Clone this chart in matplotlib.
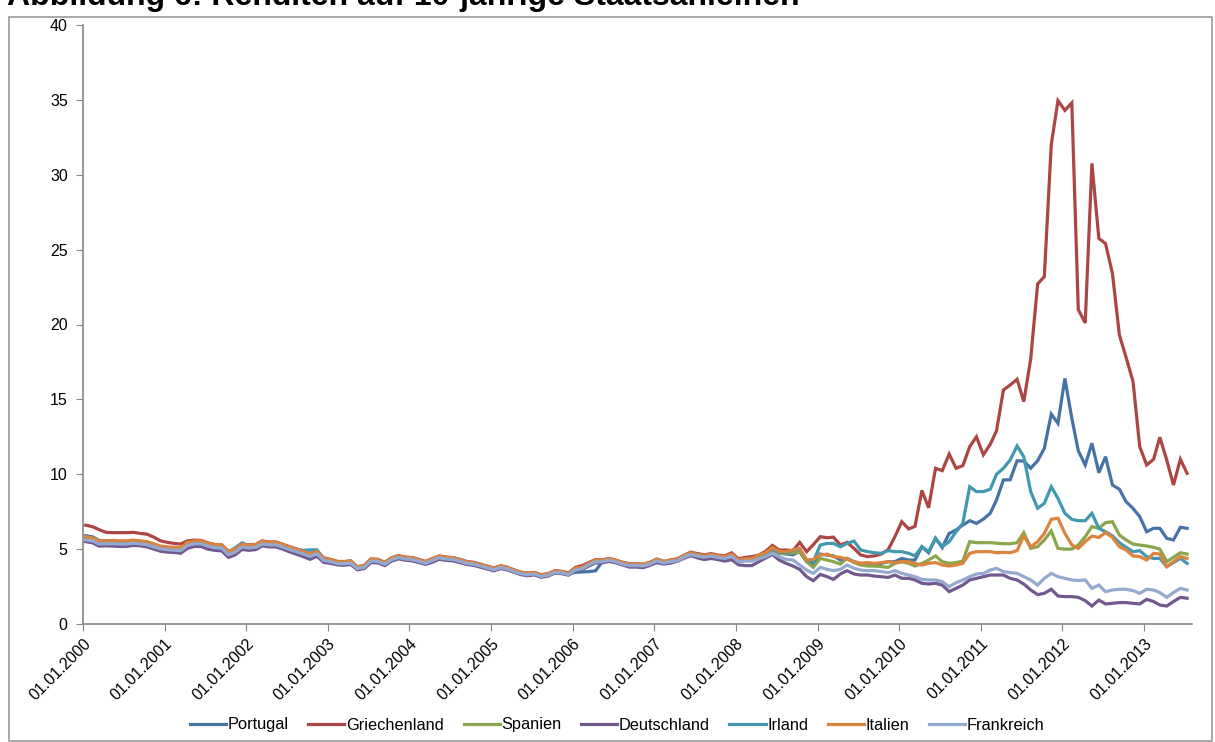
import numpy as np
import pandas as pd
import matplotlib
matplotlib.use("Agg")
import matplotlib.pyplot as plt
import matplotlib.dates as mdates
from matplotlib.patches import Rectangle

plt.rcParams['font.family'] = ['Liberation Sans', 'DejaVu Sans']

# monthly 10y yields, Jan 2000 - Jul 2013
dates = pd.date_range('2000-01-01', periods=163, freq='MS') + pd.Timedelta(days=12)

portugal = [
    5.90, 5.82, 5.58, 5.55, 5.55, 5.52, 5.52, 5.57, 5.52, 5.47, 5.30, 5.15,
    5.08, 5.05, 5.03, 5.40, 5.50, 5.50, 5.35, 5.25, 5.22, 4.76, 4.95, 5.28,
    5.20, 5.25, 5.48, 5.40, 5.42, 5.25, 5.10, 4.95, 4.78, 4.65, 4.80, 4.36,
    4.26, 4.12, 4.10, 4.15, 3.76, 3.86, 4.28, 4.25, 4.06, 4.36, 4.50, 4.41,
    4.38, 4.26, 4.12, 4.30, 4.48, 4.41, 4.38, 4.26, 4.12, 4.06, 3.94, 3.81,
    3.68, 3.83, 3.74, 3.56, 3.41, 3.34, 3.39, 3.23, 3.31, 3.50, 3.46, 3.36,
    3.45, 3.48, 3.50, 3.55, 4.15, 4.30, 4.20, 4.06, 3.96, 3.96, 3.94, 4.06,
    4.28, 4.12, 4.20, 4.28, 4.50, 4.72, 4.60, 4.52, 4.60, 4.50, 4.44, 4.62,
    4.22, 4.30, 4.32, 4.50, 4.62, 4.95, 4.72, 4.68, 4.62, 4.85, 4.16, 4.05,
    4.67, 4.60, 4.55, 4.27, 4.38, 4.16, 4.05, 4.05, 3.94, 4.05, 4.16, 4.16,
    4.38, 4.27, 4.27, 5.16, 4.76, 5.72, 5.10, 6.05, 6.28, 6.60, 6.90, 6.72,
    7.00, 7.40, 8.28, 9.62, 9.63, 10.90, 10.88, 10.40, 10.90, 11.73, 14.02, 13.40,
    16.40, 13.74, 11.57, 10.62, 12.07, 10.10, 11.17, 9.28, 9.00, 8.17, 7.72, 7.17,
    6.16, 6.39, 6.39, 5.72, 5.61, 6.46, 6.39,
]

griechenland = [
    6.60, 6.50, 6.30, 6.12, 6.10, 6.10, 6.10, 6.12, 6.05, 6.00, 5.80, 5.55,
    5.45, 5.38, 5.34, 5.55, 5.60, 5.58, 5.42, 5.30, 5.28, 4.85, 5.02, 5.34,
    5.28, 5.32, 5.55, 5.48, 5.48, 5.32, 5.17, 5.02, 4.86, 4.72, 4.86, 4.42,
    4.32, 4.18, 4.17, 4.22, 3.82, 3.92, 4.34, 4.32, 4.12, 4.42, 4.57, 4.47,
    4.44, 4.32, 4.18, 4.37, 4.55, 4.47, 4.44, 4.32, 4.18, 4.12, 4.00, 3.87,
    3.74, 3.89, 3.80, 3.62, 3.47, 3.40, 3.45, 3.29, 3.37, 3.56, 3.52, 3.40,
    3.78, 3.90, 4.10, 4.30, 4.28, 4.38, 4.27, 4.12, 4.02, 4.02, 4.00, 4.12,
    4.34, 4.18, 4.27, 4.35, 4.58, 4.80, 4.70, 4.62, 4.70, 4.60, 4.55, 4.75,
    4.35, 4.45, 4.50, 4.60, 4.85, 5.25, 4.94, 4.94, 4.90, 5.45, 4.83, 5.30,
    5.83, 5.76, 5.80, 5.28, 5.45, 5.05, 4.61, 4.50, 4.55, 4.67, 4.97, 5.83,
    6.83, 6.35, 6.52, 8.92, 7.76, 10.40, 10.24, 11.35, 10.40, 10.57, 11.84, 12.50,
    11.30, 12.00, 12.90, 15.63, 15.96, 16.34, 14.85, 17.70, 22.70, 23.20, 32.00, 34.95,
    34.30, 34.80, 21.00, 20.10, 30.76, 25.75, 25.40, 23.40, 19.30, 17.80, 16.20, 11.84,
    10.62, 11.00, 12.47, 10.95, 9.28, 11.00, 10.06,
]

spanien = [
    5.78, 5.70, 5.50, 5.50, 5.53, 5.50, 5.50, 5.55, 5.50, 5.45, 5.30, 5.16,
    5.08, 5.05, 5.03, 5.38, 5.48, 5.48, 5.33, 5.23, 5.21, 4.76, 4.93, 5.25,
    5.18, 5.23, 5.45, 5.38, 5.39, 5.23, 5.08, 4.93, 4.77, 4.63, 4.77, 4.34,
    4.24, 4.10, 4.09, 4.14, 3.74, 3.84, 4.26, 4.24, 4.04, 4.34, 4.49, 4.39,
    4.36, 4.24, 4.10, 4.29, 4.47, 4.39, 4.36, 4.24, 4.10, 4.04, 3.92, 3.79,
    3.66, 3.81, 3.72, 3.54, 3.39, 3.32, 3.37, 3.21, 3.29, 3.48, 3.44, 3.33,
    3.66, 3.74, 3.99, 4.21, 4.19, 4.30, 4.19, 4.04, 3.94, 3.94, 3.92, 4.04,
    4.26, 4.10, 4.19, 4.26, 4.49, 4.70, 4.59, 4.52, 4.59, 4.49, 4.43, 4.61,
    4.20, 4.28, 4.30, 4.47, 4.60, 4.95, 4.72, 4.70, 4.75, 4.80, 4.16, 3.78,
    4.38, 4.27, 4.16, 4.00, 4.38, 4.10, 3.94, 3.87, 3.87, 3.83, 3.78, 4.05,
    4.16, 4.05, 3.87, 4.05, 4.27, 4.55, 4.16, 4.05, 4.10, 4.20, 5.50, 5.43,
    5.43, 5.43, 5.40, 5.36, 5.36, 5.43, 6.10, 5.05, 5.16, 5.61, 6.21, 5.05,
    5.00, 5.00, 5.27, 5.83, 6.50, 6.39, 6.77, 6.83, 5.94, 5.61, 5.34, 5.27,
    5.21, 5.12, 5.00, 4.16, 4.45, 4.76, 4.67,
]

deutschland = [
    5.50, 5.42, 5.20, 5.22, 5.20, 5.18, 5.18, 5.25, 5.22, 5.15, 5.00, 4.86,
    4.80, 4.78, 4.72, 5.05, 5.18, 5.18, 5.00, 4.92, 4.88, 4.45, 4.62, 4.98,
    4.92, 4.97, 5.22, 5.15, 5.15, 5.00, 4.82, 4.66, 4.50, 4.32, 4.52, 4.12,
    4.05, 3.95, 3.92, 3.98, 3.62, 3.70, 4.10, 4.08, 3.90, 4.20, 4.35, 4.26,
    4.22, 4.10, 3.98, 4.12, 4.32, 4.25, 4.22, 4.10, 3.98, 3.92, 3.80, 3.68,
    3.55, 3.70, 3.62, 3.45, 3.30, 3.22, 3.28, 3.12, 3.20, 3.40, 3.36, 3.26,
    3.56, 3.64, 3.86, 4.08, 4.08, 4.18, 4.08, 3.94, 3.80, 3.80, 3.76, 3.92,
    4.10, 4.00, 4.06, 4.18, 4.38, 4.56, 4.42, 4.30, 4.38, 4.30, 4.20, 4.30,
    3.95, 3.90, 3.90, 4.16, 4.40, 4.65, 4.27, 4.05, 3.87, 3.65, 3.16, 2.89,
    3.31, 3.16, 2.98, 3.34, 3.56, 3.34, 3.27, 3.27, 3.20, 3.16, 3.11, 3.27,
    3.05, 3.05, 2.94, 2.72, 2.67, 2.72, 2.60, 2.16, 2.38, 2.60, 2.94, 3.05,
    3.16, 3.27, 3.27, 3.27, 3.05, 2.94, 2.67, 2.27, 1.96, 2.05, 2.32, 1.87,
    1.83, 1.83, 1.78, 1.56, 1.20, 1.60, 1.34, 1.38, 1.43, 1.43, 1.38, 1.34,
    1.65, 1.50, 1.27, 1.20, 1.50, 1.78, 1.72,
]

irland = [
    5.75, 5.70, 5.50, 5.50, 5.52, 5.50, 5.50, 5.55, 5.50, 5.45, 5.30, 5.16,
    5.10, 5.07, 5.05, 5.40, 5.50, 5.50, 5.35, 5.25, 5.23, 4.80, 5.10, 5.42,
    5.22, 5.27, 5.50, 5.42, 5.43, 5.27, 5.12, 4.97, 4.92, 4.95, 4.95, 4.38,
    4.27, 4.13, 4.12, 4.17, 3.77, 3.87, 4.29, 4.27, 4.07, 4.37, 4.52, 4.42,
    4.39, 4.27, 4.13, 4.32, 4.50, 4.42, 4.39, 4.27, 4.13, 4.07, 3.95, 3.82,
    3.69, 3.84, 3.75, 3.57, 3.42, 3.35, 3.40, 3.24, 3.32, 3.51, 3.47, 3.36,
    3.69, 3.77, 4.02, 4.24, 4.22, 4.33, 4.22, 4.07, 3.97, 3.97, 3.95, 4.07,
    4.29, 4.13, 4.22, 4.29, 4.52, 4.73, 4.62, 4.55, 4.62, 4.52, 4.46, 4.64,
    4.25, 4.32, 4.35, 4.55, 4.70, 5.00, 4.80, 4.75, 4.94, 5.00, 4.27, 4.16,
    5.27, 5.38, 5.38, 5.16, 5.38, 5.54, 4.94, 4.83, 4.76, 4.72, 4.90, 4.83,
    4.83, 4.72, 4.55, 5.16, 4.83, 5.72, 5.16, 5.50, 6.16, 6.72, 9.17, 8.84,
    8.84, 9.00, 10.00, 10.40, 10.95, 11.89, 11.17, 8.84, 7.73, 8.06, 9.17, 8.39,
    7.39, 6.99, 6.90, 6.90, 7.39, 6.39, 6.16, 5.88, 5.43, 5.12, 4.83, 4.90,
    4.50, 4.38, 4.38, 3.83, 4.10, 4.39, 4.05,
]

italien = [
    5.83, 5.75, 5.55, 5.55, 5.58, 5.55, 5.55, 5.60, 5.55, 5.50, 5.35, 5.21,
    5.15, 5.12, 5.10, 5.45, 5.55, 5.55, 5.40, 5.30, 5.28, 4.83, 5.00, 5.32,
    5.25, 5.30, 5.52, 5.45, 5.46, 5.30, 5.15, 5.00, 4.84, 4.70, 4.84, 4.40,
    4.30, 4.16, 4.15, 4.20, 3.80, 3.90, 4.32, 4.30, 4.10, 4.40, 4.55, 4.45,
    4.42, 4.30, 4.16, 4.35, 4.53, 4.45, 4.42, 4.30, 4.16, 4.10, 3.98, 3.85,
    3.72, 3.87, 3.78, 3.60, 3.45, 3.38, 3.43, 3.27, 3.35, 3.54, 3.50, 3.38,
    3.72, 3.80, 4.05, 4.27, 4.25, 4.36, 4.25, 4.10, 4.00, 4.00, 3.98, 4.10,
    4.32, 4.16, 4.25, 4.32, 4.55, 4.76, 4.65, 4.58, 4.65, 4.55, 4.49, 4.67,
    4.27, 4.35, 4.38, 4.60, 4.75, 5.10, 4.85, 4.83, 4.94, 5.05, 4.27, 4.32,
    4.60, 4.67, 4.49, 4.45, 4.32, 4.16, 4.05, 4.10, 4.05, 4.10, 4.16, 4.10,
    4.16, 4.16, 4.05, 3.94, 4.05, 4.10, 3.94, 3.87, 3.94, 4.05, 4.72, 4.83,
    4.83, 4.83, 4.76, 4.78, 4.76, 4.90, 5.88, 5.16, 5.50, 6.05, 6.99, 7.06,
    6.06, 5.28, 5.05, 5.50, 5.87, 5.78, 6.10, 5.78, 5.16, 4.94, 4.54, 4.50,
    4.27, 4.72, 4.67, 3.83, 4.16, 4.50, 4.38,
]

frankreich = [
    5.62, 5.55, 5.35, 5.36, 5.36, 5.34, 5.34, 5.40, 5.35, 5.30, 5.15, 5.02,
    4.96, 4.93, 4.90, 5.25, 5.35, 5.35, 5.20, 5.10, 5.07, 4.63, 4.80, 5.14,
    5.08, 5.12, 5.35, 5.28, 5.29, 5.13, 4.98, 4.83, 4.67, 4.52, 4.68, 4.25,
    4.16, 4.03, 4.02, 4.07, 3.70, 3.79, 4.20, 4.18, 3.99, 4.29, 4.44, 4.34,
    4.31, 4.19, 4.05, 4.24, 4.42, 4.34, 4.31, 4.19, 4.05, 3.99, 3.88, 3.75,
    3.62, 3.77, 3.68, 3.50, 3.36, 3.29, 3.34, 3.18, 3.26, 3.45, 3.41, 3.30,
    3.60, 3.70, 3.94, 4.16, 4.15, 4.26, 4.15, 4.00, 3.90, 3.90, 3.88, 4.00,
    4.21, 4.07, 4.15, 4.22, 4.44, 4.64, 4.54, 4.46, 4.54, 4.44, 4.38, 4.52,
    4.15, 4.20, 4.20, 4.35, 4.50, 4.72, 4.49, 4.32, 4.27, 3.94, 3.60, 3.38,
    3.78, 3.65, 3.56, 3.65, 3.94, 3.72, 3.60, 3.56, 3.56, 3.50, 3.43, 3.56,
    3.38, 3.27, 3.16, 2.98, 2.94, 2.94, 2.83, 2.49, 2.76, 2.94, 3.16, 3.34,
    3.38, 3.60, 3.72, 3.50, 3.43, 3.38, 3.16, 2.94, 2.60, 3.05, 3.38, 3.16,
    3.05, 2.94, 2.90, 2.94, 2.38, 2.60, 2.16, 2.27, 2.32, 2.32, 2.23, 2.05,
    2.32, 2.27, 2.10, 1.78, 2.10, 2.38, 2.27,
]

series = [
    ('Portugal', portugal, '#4572A7'),
    ('Griechenland', griechenland, '#AA4643'),
    ('Spanien', spanien, '#89A54E'),
    ('Deutschland', deutschland, '#71588F'),
    ('Irland', irland, '#4198AF'),
    ('Italien', italien, '#DB843D'),
    ('Frankreich', frankreich, '#93A9CF'),
]

W, H = 1215, 742
fig = plt.figure(figsize=(W / 100, H / 100), dpi=100)
ax = fig.add_axes([83 / W, 1 - 624 / H, (1192 - 83) / W, (624 - 25) / H])

for name, vals, col in series:
    ax.plot(dates, vals, color=col, lw=2.3, label=name, solid_joinstyle='miter')

ax.set_ylim(0, 40)
ax.set_yticks(np.arange(0, 41, 5))
ax.set_xlim(pd.Timestamp('2000-01-01'), pd.Timestamp('2013-08-04'))
ax.xaxis.set_major_locator(mdates.YearLocator())
ax.xaxis.set_major_formatter(mdates.DateFormatter('%d.%m.%Y'))

for s in ['top', 'right']:
    ax.spines[s].set_visible(False)
for s in ['left', 'bottom']:
    ax.spines[s].set_color('#868686')
    ax.spines[s].set_linewidth(1.2)
ax.tick_params(axis='both', direction='out', length=5, color='#868686',
               labelsize=11.5, labelcolor='black')
ax.tick_params(axis='y', pad=6)
for lab in ax.get_xticklabels():
    lab.set_rotation(45)
    lab.set_ha('right')
    lab.set_va('top')
    lab.set_rotation_mode('anchor')

fig.legend(loc='center', bbox_to_anchor=(0.508, 1 - 725 / H), ncol=7,
           frameon=False, fontsize=11.8, handlelength=2.2, handletextpad=0.1,
           columnspacing=1.2)

# outer chart frame
fig.patches.append(Rectangle((9 / W, 1 / H), (1212 - 9) / W, (742 - 17 - 1) / H,
                             transform=fig.transFigure, fill=False,
                             edgecolor='#9a9a9a', lw=1.2))

# title, cut off at the top edge as in the original
fig.text(7 / W, 1 - 5 / H, 'Abbildung 6: Renditen auf 10-jährige Staatsanleihen',
         fontsize=23, fontweight='bold', ha='left', va='baseline')

fig.savefig('out.png', dpi=100)
